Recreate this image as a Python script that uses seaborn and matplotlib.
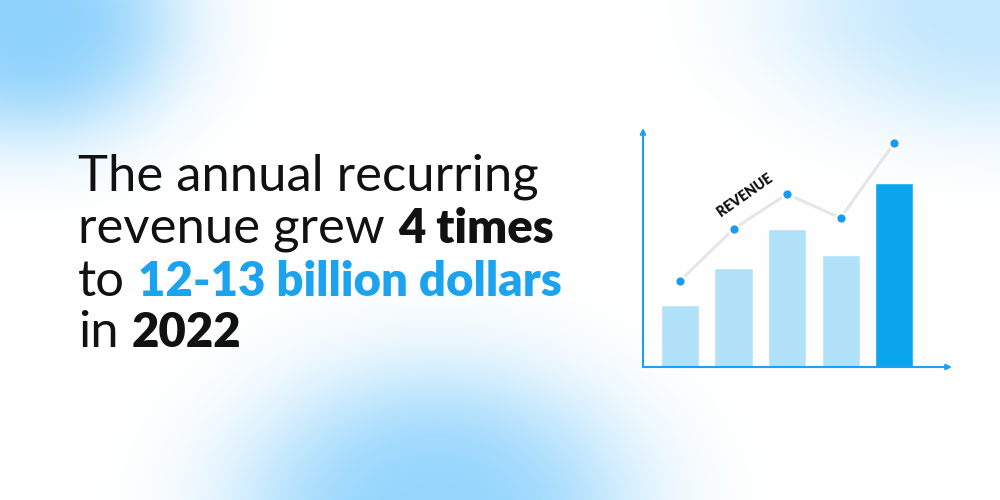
import numpy as np
import matplotlib
matplotlib.use("Agg")
import matplotlib.pyplot as plt
import seaborn as sns

# chart data (arbitrary revenue units)
periods = ["1", "2", "3", "4", "5"]
bar_values = [62, 99, 138, 112, 184]
line_values = [86, 138, 173, 149, 224]
bar_colors = ["#b2e2fa", "#b2e2fa", "#b2e2fa", "#b2e2fa", "#0ba5ee"]

# headline, split in pieces of (text, weight, colour)
headline = [
    [("The annual recurring", "normal", "#111111")],
    [("revenue grew", "normal", "#111111"), ("4 times", "heavy", "#111111")],
    [("to", "normal", "#111111"), ("12-13 billion dollars", "heavy", "#1ba3ef")],
    [("in", "normal", "#111111"), ("2022", "heavy", "#111111")],
]

W, H = 1000, 500
sns.set_theme(style="white")
plt.rcParams["font.family"] = ["Lato", "DejaVu Sans"]

fig = plt.figure(figsize=(10, 5), dpi=100)

# soft blue blobs in the background
yy, xx = np.mgrid[0:H, 0:W]
img = np.ones((H, W, 3))
blobs = [
    (30, 20, 150, 120, (0x8f, 0xd2, 0xfc), 1.0),
    (435, 515, 200, 150, (0x96, 0xd6, 0xfd), 1.0),
    (1000, 5, 220, 125, (0xc4, 0xe8, 0xfd), 1.0),
]
for cx, cy, rx, ry, col, a in blobs:
    d = np.sqrt(((xx - cx) / rx) ** 2 + ((yy - cy) / ry) ** 2)
    alpha = a * np.exp(-d ** 3)
    c = np.array(col) / 255
    img = img * (1 - alpha[..., None]) + c * alpha[..., None]
bg = fig.add_axes([0, 0, 1, 1])
bg.imshow(img, aspect="auto")
bg.axis("off")

# headline text
renderer = fig.canvas.get_renderer()


def text_width(s, **kw):
    t = fig.text(0, 0, s, **kw)
    w = t.get_window_extent(renderer).width
    t.remove()
    return w


base = text_width(headline[0][0][0], fontsize=10, fontweight="normal")
fs = 10 * 470 / base * 0.98
sizes = {"normal": fs, "heavy": fs * 0.93}
baselines = [190, 243, 296, 347]
for line, yb in zip(headline, baselines):
    x = 78
    for s, wgt, col in line:
        size = sizes[wgt]
        fig.text(x / W, 1 - yb / H, s, fontsize=size, fontweight=wgt, color=col,
                 va="baseline", ha="left")
        space = text_width("a a", fontsize=size, fontweight=wgt) - text_width("aa", fontsize=size, fontweight=wgt)
        x += text_width(s, fontsize=size, fontweight=wgt) + space

# the small chart
ax = fig.add_axes([643 / W, 1 - 367 / H, 309 / W, 239 / H])
ax.patch.set_alpha(0)
sns.barplot(x=periods, y=bar_values, hue=periods, palette=bar_colors, legend=False,
            width=0.71, ax=ax, saturation=1, zorder=2)
sns.lineplot(x=periods, y=line_values, color="#e6e6e6", linewidth=2.2, ax=ax, zorder=3)
sns.scatterplot(x=periods, y=line_values, color="#189bf0", s=60, edgecolor="white",
                linewidth=1.8, ax=ax, zorder=4)
ax.set_xlim(-0.69, 5.08)
ax.set_ylim(0, 239)
for sp in ax.spines.values():
    sp.set_visible(False)
ax.set_xticks([])
ax.set_yticks([])
ax.set_xlabel("")
ax.set_ylabel("")
arrow = dict(arrowstyle="-|>", color="#1da1f2", lw=1.5, mutation_scale=8, shrinkA=0, shrinkB=0)
ax.annotate("", xy=(1, 0), xytext=(0, 0), xycoords="axes fraction", arrowprops=arrow)
ax.annotate("", xy=(0, 1), xytext=(0, 0), xycoords="axes fraction", arrowprops=arrow)
ax.text(745 / W, 1 - 195 / H, "REVENUE", transform=fig.transFigure, rotation=35,
        fontsize=10, fontweight="heavy", color="#111111", ha="center", va="center",
        rotation_mode="anchor")

fig.savefig("out.png", dpi=100)
